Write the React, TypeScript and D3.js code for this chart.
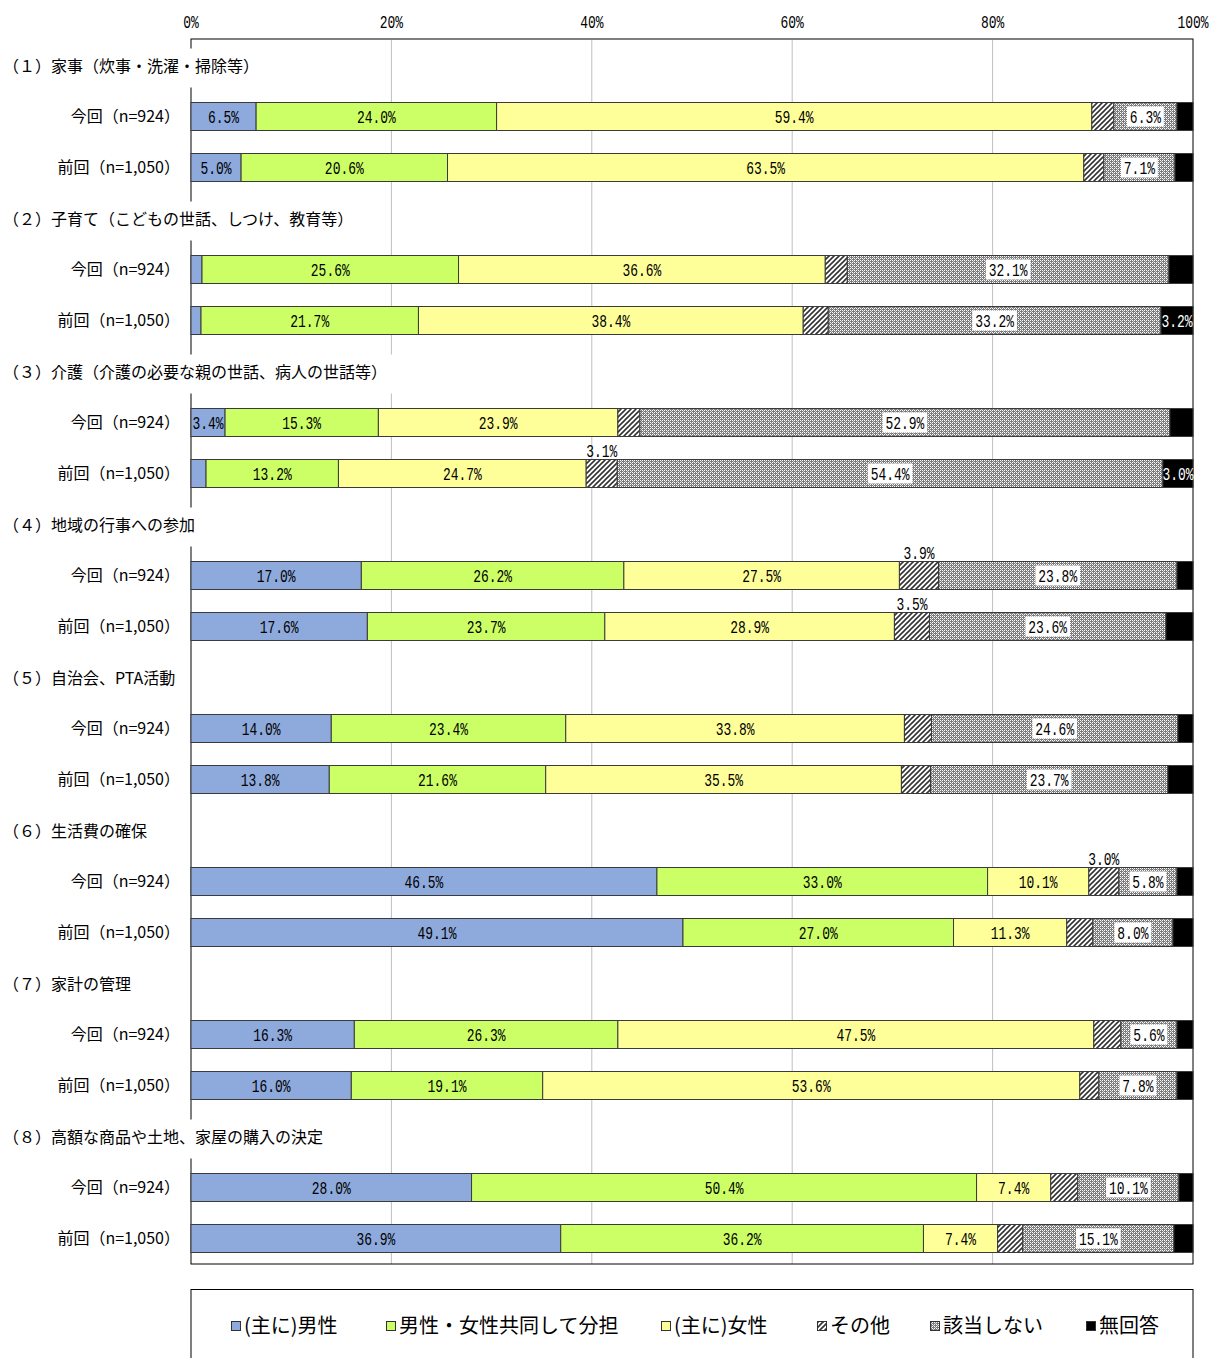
import { useEffect, useRef } from 'react'
import * as d3 from 'd3'

const groups = [
  '（１）家事（炊事・洗濯・掃除等）',
  '（２）子育て（こどもの世話、しつけ、教育等）',
  '（３）介護（介護の必要な親の世話、病人の世話等）',
  '（４）地域の行事への参加',
  '（５）自治会、PTA活動',
  '（６）生活費の確保',
  '（７）家計の管理',
  '（８）高額な商品や土地、家屋の購入の決定',
]
const periods = ['今回（n=924）', '前回（n=1,050）']
const seriesNames = ['(主に)男性', '男性・女性共同して分担', '(主に)女性', 'その他', '該当しない', '無回答']

// each array: group1 今回, group1 前回, group2 今回, ...
const male = [6.5, 5.0, 1.1, 1.0, 3.4, 1.5, 17.0, 17.6, 14.0, 13.8, 46.5, 49.1, 16.3, 16.0, 28.0, 36.9]
const shared = [24.0, 20.6, 25.6, 21.7, 15.3, 13.2, 26.2, 23.7, 23.4, 21.6, 33.0, 27.0, 26.3, 19.1, 50.4, 36.2]
const female = [59.4, 63.5, 36.6, 38.4, 23.9, 24.7, 27.5, 28.9, 33.8, 35.5, 10.1, 11.3, 47.5, 53.6, 7.4, 7.4]
const other = [2.2, 2.0, 2.2, 2.5, 2.2, 3.1, 3.9, 3.5, 2.7, 2.9, 3.0, 2.6, 2.7, 1.9, 2.7, 2.5]
const notApplicable = [6.3, 7.1, 32.1, 33.2, 52.9, 54.4, 23.8, 23.6, 24.6, 23.7, 5.8, 8.0, 5.6, 7.8, 10.1, 15.1]
const noAnswer = [1.6, 1.8, 2.4, 3.2, 2.3, 3.0, 1.6, 2.7, 1.5, 2.5, 1.6, 2.0, 1.6, 1.6, 1.4, 1.9]

const tickValues = [0, 20, 40, 60, 80, 100]

const seriesKeys = ['male', 'shared', 'female', 'other', 'na', 'noans']
const fills = ['#8EA9DB', '#CCFF66', '#FFFF99', 'url(#hatch)', 'url(#dots)', '#000000']

const jpFont = '"Noto Sans CJK JP", "Noto Sans", sans-serif'
const numFont = '"Liberation Mono", "DejaVu Sans Mono", monospace'

type Row = {
  key: string
  label: string
  male: number
  shared: number
  female: number
  other: number
  na: number
  noans: number
}

export default () => {
  const rootRef = useRef<SVGSVGElement>(null)

  useEffect(() => {
    const svg = d3.select(rootRef.current)
    svg.selectAll('*').remove()

    const left = 191,
      right = 1193,
      top = 40,
      bottom = 1264

    const rows: Row[] = []
    const rowKeys: string[] = []
    groups.forEach((g, i) => {
      rowKeys.push('h' + i)
      periods.forEach((p, j) => {
        const k = i * 2 + j
        rowKeys.push('r' + k)
        rows.push({
          key: 'r' + k,
          label: p,
          male: male[k],
          shared: shared[k],
          female: female[k],
          other: other[k],
          na: notApplicable[k],
          noans: noAnswer[k],
        })
      })
    })

    const x = d3.scaleLinear().domain([0, 1]).range([left, right])
    const xPct = d3.scaleLinear().domain([0, 100]).range([left, right])
    const y = d3.scaleBand().domain(rowKeys).range([top, bottom])
    const barH = 28

    // patterns
    const defs = svg.append('defs')
    const hatch = defs
      .append('pattern')
      .attr('id', 'hatch')
      .attr('patternUnits', 'userSpaceOnUse')
      .attr('width', 5)
      .attr('height', 5)
    hatch.append('rect').attr('width', 5).attr('height', 5).attr('fill', '#fff')
    hatch
      .append('path')
      .attr('d', 'M-1,1 L1,-1 M0,5 L5,0 M4,6 L6,4')
      .attr('stroke', '#333')
      .attr('stroke-width', 1.6)
    const dots = defs
      .append('pattern')
      .attr('id', 'dots')
      .attr('patternUnits', 'userSpaceOnUse')
      .attr('width', 4)
      .attr('height', 4)
    dots.append('rect').attr('width', 4).attr('height', 4).attr('fill', '#7a7a7a')
    ;[
      [0, 0],
      [2, 0],
      [0, 2],
      [2, 2],
    ].forEach(([a, b]) => dots.append('rect').attr('x', a).attr('y', b).attr('width', 1).attr('height', 1).attr('fill', '#fff'))
    ;[
      [1, 1],
      [3, 3],
    ].forEach(([a, b]) => dots.append('rect').attr('x', a).attr('y', b).attr('width', 1).attr('height', 1).attr('fill', '#cfcfcf'))

    // gridlines
    svg
      .append('g')
      .selectAll('line')
      .data(tickValues.slice(1, -1))
      .join('line')
      .attr('x1', (d) => xPct(d))
      .attr('x2', (d) => xPct(d))
      .attr('y1', top)
      .attr('y2', bottom)
      .attr('stroke', '#bfbfbf')
      .attr('stroke-width', 1)

    // tick labels
    svg
      .append('g')
      .selectAll('text')
      .data(tickValues)
      .join('text')
      .attr('transform', (d) => `translate(${xPct(d)},22) scale(0.72,1)`)
      .attr('text-anchor', 'middle')
      .attr('dy', '0.35em')
      .attr('font-family', numFont)
      .attr('font-size', 18)
      .text((d) => d + '%')

    // frame
    svg
      .append('rect')
      .attr('x', left)
      .attr('y', top - 1)
      .attr('width', right - left)
      .attr('height', bottom - top + 1)
      .attr('fill', 'none')
      .attr('stroke', '#000')
      .attr('stroke-width', 1)

    // stacked bars
    const stacked = d3
      .stack<Row>()
      .keys(seriesKeys)
      .offset(d3.stackOffsetExpand)(rows)

    const barY = (k: string) => (y(k) as number) + y.bandwidth() / 2 - barH / 2

    stacked.forEach((s, si) => {
      svg
        .append('g')
        .selectAll('rect')
        .data(s)
        .join('rect')
        .attr('x', (d) => x(d[0]))
        .attr('y', (d) => barY(d.data.key))
        .attr('width', (d) => x(d[1]) - x(d[0]))
        .attr('height', barH)
        .attr('fill', fills[si])
        .attr('stroke', '#3a3a3a')
        .attr('stroke-width', 1)
    })

    // data labels
    stacked.forEach((s, si) => {
      const key = seriesKeys[si] as keyof Row
      const g = svg.append('g')
      s.forEach((d) => {
        const v = d.data[key] as number
        if (v < 3) return
        const cx = (x(d[0]) + x(d[1])) / 2
        const cy = barY(d.data.key) + barH / 2
        const txt = v.toFixed(1) + '%'
        if (si === 3) {
          g.append('text')
            .attr('transform', `translate(${cx},${cy - barH / 2 - 9}) scale(0.72,1)`)
            .attr('text-anchor', 'middle')
            .attr('dy', '0.35em')
            .attr('font-family', numFont)
            .attr('font-size', 18)
            .text(txt)
          return
        }
        const lg = g.append('g').attr('transform', `translate(${cx},${cy}) scale(0.72,1)`)
        if (si === 4) {
          const w = txt.length * 10.8 + 8
          lg.append('rect').attr('x', -w / 2).attr('y', -10).attr('width', w).attr('height', 20).attr('fill', '#fff')
        }
        lg.append('text')
          .attr('text-anchor', 'middle')
          .attr('dy', '0.35em')
          .attr('font-family', numFont)
          .attr('font-size', 18)
          .attr('fill', si === 5 ? '#fff' : '#000')
          .text(txt)
      })
    })

    // row labels
    svg
      .append('g')
      .selectAll('text')
      .data(rows)
      .join('text')
      .attr('x', 180)
      .attr('y', (d) => (y(d.key) as number) + y.bandwidth() / 2)
      .attr('dy', '0.35em')
      .attr('text-anchor', 'end')
      .attr('font-family', jpFont)
      .attr('font-size', 16)
      .text((d) => d.label)

    // group headers with white backing
    groups.forEach((g, i) => {
      const cy = (y('h' + i) as number) + y.bandwidth() / 2
      const hg = svg.append('g')
      const bg = hg.append('rect').attr('fill', '#fff')
      const t = hg
        .append('text')
        .attr('x', 3)
        .attr('y', cy + 1)
        .attr('dy', '0.35em')
        .attr('font-family', jpFont)
        .attr('font-size', 16)
        .text(g)
      const w = (t.node() as SVGTextElement).getComputedTextLength()
      bg.attr('x', 0)
        .attr('y', cy - 17)
        .attr('width', w + 12)
        .attr('height', 39)
    })

    // legend
    const leg = svg.append('g')
    leg
      .append('rect')
      .attr('x', left)
      .attr('y', 1289.5)
      .attr('width', right - left)
      .attr('height', 100)
      .attr('fill', '#fff')
      .attr('stroke', '#000')
      .attr('stroke-width', 1)
    const legX = [236, 391, 666, 822, 935, 1091]
    seriesNames.forEach((n, i) => {
      leg
        .append('rect')
        .attr('x', legX[i] - 4.5)
        .attr('y', 1321.5)
        .attr('width', 9)
        .attr('height', 9)
        .attr('fill', fills[i])
        .attr('stroke', '#333')
        .attr('stroke-width', 1)
      leg
        .append('text')
        .attr('x', legX[i] + 8)
        .attr('y', 1326)
        .attr('dy', '0.35em')
        .attr('font-family', jpFont)
        .attr('font-size', 20)
        .text(n)
    })
  }, [])

  return <svg ref={rootRef} width={1212} height={1358} style={{ position: 'absolute', left: 0, top: 0, background: '#fff' }}></svg>
}
